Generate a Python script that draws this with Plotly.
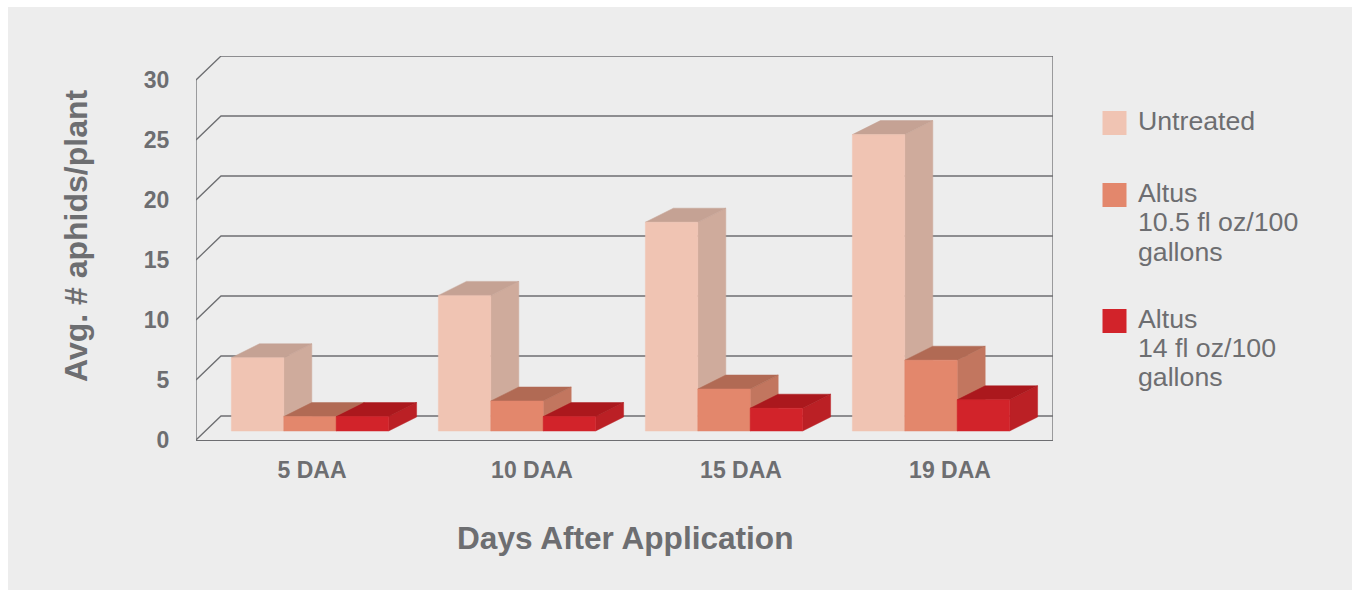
import plotly.graph_objects as go

# ---- data ----
days = ["5 DAA", "10 DAA", "15 DAA", "19 DAA"]
untreated = [6.1, 11.3, 17.4, 24.7]
altus_105 = [1.2, 2.5, 3.5, 5.9]
altus_14 = [1.2, 1.2, 1.9, 2.6]
y_ticks = [0, 5, 10, 15, 20, 25, 30]
label_positions = [116, 336, 545, 754]

# ---- page / plot geometry (pixels) ----
W, H = 1353, 590
PL, PR, PT, PB = 196, 1053, 56, 440
PXU = 12.0                  # pixels per y-unit
Y_MAX = (PB - PT) / PXU
WALL_DX, WALL_DY = 25, 24 / PXU
BAR_DX, BAR_DY = 28, 14 / PXU
BAR_BASE = 9 / PXU
GROUP_X0, GROUP_STEP, BAR_W = 35.4, 207.0, 52.4
GREY = "#6d6e71"
BG = "#ededed"
FONT = "Liberation Sans, Arial, sans-serif"

series = [
    ("Untreated", untreated, "#f0c4b3", "#c5a294", "#cfab9c"),
    ("Altus 10.5 fl oz/100 gallons", altus_105, "#e3876c", "#b16a54", "#c2765f"),
    ("Altus 14 fl oz/100 gallons", altus_14, "#d2232a", "#ab181d", "#bb2025"),
]
legend_items = [
    ("#f0c4b3", 111, [("Untreated", 121)]),
    ("#e3876c", 183, [("Altus", 193), ("10.5 fl oz/100", 222), ("gallons", 252)]),
    ("#d2232a", 309, [("Altus", 319), ("14 fl oz/100", 348), ("gallons", 377)]),
]


def px(x):
    return (x - PL) / (PR - PL)


def py(y):
    return (PB - y) / (PB - PT)


fig = go.Figure()

# ---- walls and gridlines ----
gx, gy = [], []
for v in y_ticks:
    gx += [0, WALL_DX, PR - PL, None]
    gy += [v, v + WALL_DY, v + WALL_DY, None]
gx += [0, 0, None, PR - PL, PR - PL]
gy += [0, y_ticks[-1], None, 0, Y_MAX]
fig.add_trace(go.Scatter(x=gx, y=gy, mode="lines", line=dict(color=GREY, width=1.3),
                         showlegend=False, hoverinfo="skip", cliponaxis=False))


def polys(values, s_idx, face):
    xs, ys = [], []
    for g, v in enumerate(values):
        x0 = GROUP_X0 + g * GROUP_STEP + s_idx * BAR_W
        x1 = x0 + BAR_W
        b, t = BAR_BASE, BAR_BASE + v
        if face == "front":
            pts = [(x0, b), (x1, b), (x1, t), (x0, t)]
        elif face == "top":
            pts = [(x0, t), (x1, t), (x1 + BAR_DX, t + BAR_DY), (x0 + BAR_DX, t + BAR_DY)]
        else:
            pts = [(x1, b), (x1 + BAR_DX, b + BAR_DY), (x1 + BAR_DX, t + BAR_DY), (x1, t)]
        for p in pts + [pts[0]]:
            xs.append(p[0])
            ys.append(p[1])
        xs.append(None)
        ys.append(None)
    return xs, ys


# ---- 3-D bars, painted back to front ----
for i, (name, vals, front, top, side) in enumerate(series):
    for face, col in (("side", side), ("top", top), ("front", front)):
        xs, ys = polys(vals, i, face)
        fig.add_trace(go.Scatter(x=xs, y=ys, mode="lines", fill="toself", fillcolor=col,
                                 line=dict(color=col, width=0.5), name=name,
                                 showlegend=False, hoverinfo="skip", cliponaxis=False))

shapes = [dict(type="rect", xref="paper", yref="paper", layer="below",
               x0=px(8), x1=px(1352), y0=py(7), y1=py(590), fillcolor=BG, line_width=0)]
annotations = []
for col, top_y, lines in legend_items:
    shapes.append(dict(type="rect", xref="paper", yref="paper", layer="above",
                       x0=px(1102.5), x1=px(1126.5), y0=py(top_y), y1=py(top_y + 24),
                       fillcolor=col, line_width=0))
    for text, cy in lines:
        annotations.append(dict(text=text, xref="paper", yref="paper", x=px(1136), y=py(cy),
                                xanchor="left", yanchor="middle", showarrow=False,
                                font=dict(family=FONT, size=26.7, color=GREY)))
annotations.append(dict(text="<b>Avg. # aphids/plant</b>", xref="paper", yref="paper",
                        x=px(76), y=py(236), textangle=-90, showarrow=False,
                        xanchor="center", yanchor="middle",
                        font=dict(family=FONT, size=32, color=GREY)))
annotations.append(dict(text="<b>Days After Application</b>", xref="paper", yref="paper",
                        x=px(625), y=py(538), showarrow=False,
                        xanchor="center", yanchor="middle",
                        font=dict(family=FONT, size=31.6, color=GREY)))

fig.update_layout(
    width=W, height=H, autosize=False,
    margin=dict(l=PL, r=W - PR, t=PT, b=H - PB, pad=0),
    paper_bgcolor="white", plot_bgcolor="rgba(0,0,0,0)",
    showlegend=False, shapes=shapes, annotations=annotations,
    xaxis=dict(range=[0, PR - PL], tickmode="array", tickvals=label_positions, ticktext=days,
               showgrid=False, zeroline=False, showline=True, linecolor=GREY, linewidth=1.3,
               ticks="outside", ticklen=9, tickcolor="rgba(0,0,0,0)",
               tickfont=dict(family=FONT, size=23, color=GREY, weight="bold")),
    yaxis=dict(range=[0, Y_MAX], tickmode="array", tickvals=y_ticks,
               showgrid=False, zeroline=False, showline=False,
               ticks="outside", ticklen=21, tickcolor="rgba(0,0,0,0)",
               tickfont=dict(family=FONT, size=23, color=GREY, weight="bold")),
)

fig.write_html("out.html", config={"displayModeBar": False},
               post_script="document.body.style.margin='0';document.documentElement.style.overflow='hidden';")
